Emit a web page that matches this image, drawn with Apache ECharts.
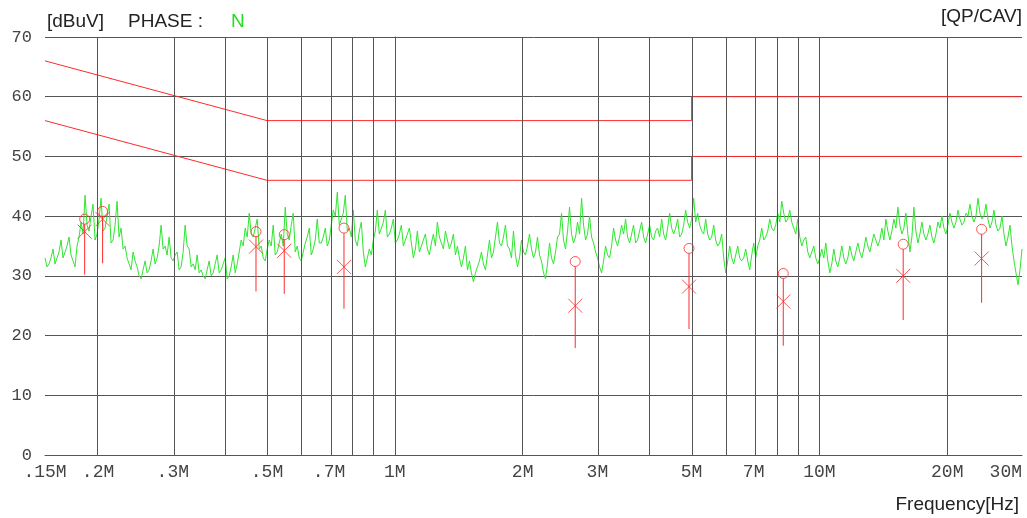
<!DOCTYPE html>
<html>
<head>
<meta charset="utf-8">
<script src="https://cdn.jsdelivr.net/npm/echarts@6/dist/echarts.min.js"></script>
<style>
html,body{margin:0;padding:0;background:#fff;}
#chart{width:1027px;height:518px;}
</style>
</head>
<body>
<div id="chart"></div>
<script>
// ---- data ----
const sweepStartMHz = 0.15;
const sweepStopMHz = 30;
// peak-detector trace (dBuV): spike tops, one per even sweep step
const tracePeakDbuV = [
33.0,32.0,34.5,33.0,36.0,34.0,36.5,32.5,35.0,39.0,
43.5,37.5,42.0,37.0,43.0,38.0,42.0,36.0,42.5,38.0,
35.0,32.0,34.0,31.5,29.5,32.5,31.0,34.5,33.0,38.5,
35.0,36.5,32.5,34.0,31.5,38.5,34.5,32.0,33.5,31.0,
29.5,32.5,30.5,33.5,31.0,33.0,30.0,33.5,32.0,36.0,
38.0,40.5,36.5,39.5,35.0,32.5,36.0,38.5,34.0,37.0,
41.5,36.0,40.5,35.0,32.5,35.5,38.0,34.5,39.5,35.5,
38.0,36.0,41.0,44.0,39.5,43.5,38.0,41.0,35.0,39.0,
31.5,34.5,36.0,41.0,38.0,41.0,37.0,39.5,36.0,38.5,
36.0,38.0,33.0,37.5,35.0,37.0,33.5,37.0,39.0,35.5,
37.5,34.5,37.0,35.0,31.5,35.0,32.5,29.0,31.5,34.0,
31.0,36.0,34.0,39.0,35.0,38.5,34.5,37.5,31.5,36.0,
33.5,37.0,33.0,36.5,32.5,29.5,35.5,32.0,36.5,40.5,
34.5,41.5,35.5,39.0,43.0,36.0,40.0,35.5,33.0,30.5,
35.0,33.0,38.0,35.0,38.5,39.5,35.5,38.5,36.0,39.0,
35.5,38.5,36.0,38.0,39.5,36.0,40.5,37.0,39.5,37.0,
41.0,38.0,43.0,40.5,37.5,39.5,36.0,38.5,35.0,37.0,
30.5,35.0,32.0,35.0,32.5,34.5,31.0,35.5,35.0,38.0,
36.5,39.5,37.5,40.5,42.5,39.0,41.0,38.0,39.5,35.0,
36.5,33.0,35.0,32.0,34.5,35.5,30.5,34.5,31.5,35.0,
32.0,35.0,32.5,35.5,33.0,36.5,34.0,37.0,35.0,38.0,
39.5,36.0,39.5,41.5,37.0,40.5,34.0,41.5,35.5,39.0,
36.0,38.5,35.5,39.0,40.0,37.0,40.5,38.0,41.0,38.5,
40.5,42.0,39.0,43.0,39.5,42.0,38.0,41.0,37.5,40.0,
35.0,38.5,32.5,28.5,34.5
];
// spike bottoms, one per odd sweep step (between the tops above)
const traceValleyDbuV = [
31.5,33.0,32.0,34.0,33.0,35.0,33.5,31.5,36.5,37.0,
38.5,40.0,36.0,39.5,37.5,40.0,35.5,38.5,36.5,34.5,
33.0,31.0,32.5,30.0,31.0,30.5,32.5,32.0,35.0,34.5,
33.5,33.0,33.5,31.0,34.0,35.0,31.5,31.0,30.5,30.0,
31.0,30.0,32.0,30.5,32.0,29.5,31.5,30.5,34.0,35.0,
36.5,37.0,38.0,34.5,33.0,34.5,35.0,33.5,35.5,35.0,
37.0,38.5,34.0,33.0,34.0,36.5,33.5,36.0,35.5,36.5,
35.0,38.5,40.0,38.5,40.5,37.5,36.5,36.0,37.5,34.0,
33.0,33.5,37.5,37.0,39.0,36.5,38.0,35.5,37.0,35.0,
37.0,35.5,34.5,34.0,36.0,34.5,35.5,35.0,36.5,34.5,
36.0,35.5,33.5,33.0,33.0,31.0,30.5,30.5,32.5,32.0,
33.5,33.0,36.5,35.5,36.5,35.0,33.0,33.5,33.0,34.0,
35.0,34.5,34.0,33.5,30.5,32.0,33.0,34.0,37.0,36.0,
37.5,37.0,36.5,37.0,38.5,37.0,36.5,34.0,31.5,32.5,
33.5,35.0,36.0,36.5,37.0,36.5,37.0,35.5,37.5,36.5,
37.0,36.5,37.5,36.5,37.0,38.0,38.0,38.0,36.5,38.5,
39.0,39.5,39.0,38.5,37.0,37.0,36.5,36.0,35.5,33.0,
32.5,33.0,33.5,33.0,33.0,32.5,33.5,33.0,36.0,36.0,
37.5,38.0,38.5,39.0,40.5,39.5,39.0,37.0,36.5,36.0,
34.0,34.0,33.0,33.0,33.0,32.5,32.0,32.5,33.0,33.0,
33.0,33.5,34.0,34.0,34.5,35.0,35.5,36.0,36.0,36.0,
37.5,37.5,38.0,38.5,38.0,37.0,36.5,37.5,37.0,37.0,
37.0,36.5,37.0,38.0,38.0,38.5,39.0,39.0,39.5,39.0,
40.0,40.0,40.0,40.5,40.0,39.5,39.0,38.5,38.0,37.0,
36.5,35.0,30.5,31.0
];
// the receiver sweeps log-spaced frequency steps between start and stop
const sweepSteps = tracePeakDbuV.length + traceValleyDbuV.length;
const sweepFreqMHz = Array.from({length: sweepSteps}, (_, k) =>
  sweepStartMHz * Math.pow(sweepStopMHz / sweepStartMHz, k / (sweepSteps - 1)));

// final measurement points
const peakFreqMHz  = [0.186, 0.205, 0.471, 0.549, 0.759, 2.66, 4.93, 8.22, 15.75, 24.1];
const qpDbuV       = [39.5, 40.8, 37.4, 36.9, 38.0, 32.4, 34.6, 30.4, 35.3, 37.8];
const avDbuV       = [37.4, 39.5, 34.9, 34.2, 31.5, 25.0, 28.2, 25.7, 30.0, 32.9];
const stemLowDbuV  = [30.2, 32.1, 27.4, 27.0, 24.5, 17.9, 21.1, 18.3, 22.6, 25.5];

// limit lines (frequency MHz, dBuV)
const qpLimitFreqMHz = [0.15, 0.5, 5, 5, 30];
const qpLimitDbuV    = [66, 56, 56, 60, 60];
const avLimitFreqMHz = [0.15, 0.5, 5, 5, 30];
const avLimitDbuV    = [56, 46, 46, 50, 50];

// axis ticks
const xLabelFreqMHz = [0.15, 0.2, 0.3, 0.5, 0.7, 1, 2, 3, 5, 7, 10, 20, 30];
const xLabelTexts   = ['.15M', '.2M', '.3M', '.5M', '.7M', '1M', '2M', '3M', '5M', '7M', '10M', '20M', '30M'];
const xGridFreqMHz  = [0.2, 0.3, 0.4, 0.5, 0.6, 0.7, 0.8, 0.9, 1, 2, 3, 4, 5, 6, 7, 8, 9, 10, 20, 30];
const yMin = 0, yMax = 70, yStep = 10;

// ---- chart ----
const lg = Math.log10;
const RED = '#ff2a2a';
const GRID = '#555555';
const chart = echarts.init(document.getElementById('chart'), null, {renderer: 'canvas'});

const labelValues = xLabelFreqMHz.map(lg);
const traceData = sweepFreqMHz.map((f, k) =>
  [lg(f), (k % 2 === 0) ? tracePeakDbuV[k / 2] : traceValleyDbuV[(k - 1) / 2]]);

const textFont = '19px "Liberation Sans"';

chart.setOption({
  animation: false,
  backgroundColor: '#ffffff',
  grid: {left: 45, right: 5, top: 37, bottom: 63, containLabel: false},
  xAxis: {
    type: 'value',
    min: lg(sweepStartMHz),
    max: lg(sweepStopMHz),
    axisLine: {show: true, lineStyle: {color: GRID, width: 1}},
    axisTick: {show: false},
    splitLine: {show: false},
    axisLabel: {
      customValues: labelValues,
      margin: 8,
      color: '#444',
      fontFamily: 'Liberation Mono',
      fontSize: 18,
      alignMaxLabel: 'right',
      formatter: function (v) {
        for (let i = 0; i < labelValues.length; i++) {
          if (Math.abs(labelValues[i] - v) < 1e-6) return xLabelTexts[i];
        }
        return '';
      }
    }
  },
  yAxis: {
    type: 'value',
    min: yMin, max: yMax, interval: yStep,
    axisLine: {show: true, lineStyle: {color: GRID, width: 1}},
    axisTick: {show: false},
    splitLine: {show: true, lineStyle: {color: GRID, width: 1}},
    axisLabel: {
      margin: 13,
      color: '#444',
      fontFamily: 'Liberation Mono',
      fontSize: 17
    }
  },
  graphic: [
    {type: 'text', left: 47, top: 12, style: {text: '[dBuV]', fill: '#222', font: textFont}},
    {type: 'text', left: 128, top: 12, style: {text: 'PHASE :', fill: '#222', font: textFont}},
    {type: 'text', left: 231, top: 12, style: {text: 'N', fill: '#22dd22', font: textFont}},
    {type: 'text', right: 5, top: 7, style: {text: '[QP/CAV]', fill: '#222', font: textFont}},
    {type: 'text', right: 8, top: 495, style: {text: 'Frequency[Hz]', fill: '#222', font: textFont}}
  ],
  series: [
    {
      // vertical grid lines
      type: 'line', data: [], z: 1, silent: true,
      markLine: {
        silent: true, symbol: 'none', label: {show: false}, animation: false,
        lineStyle: {color: GRID, width: 1, type: 'solid'},
        data: xGridFreqMHz.map(f => ({xAxis: lg(f)}))
      }
    },
    {
      name: 'trace', type: 'line', z: 2, symbol: 'none',
      lineStyle: {color: '#2fe62f', width: 1},
      data: traceData
    },
    {
      name: 'QP limit', type: 'line', z: 3, symbol: 'none',
      lineStyle: {color: RED, width: 1},
      data: qpLimitFreqMHz.map((f, i) => [lg(f), qpLimitDbuV[i]])
    },
    {
      name: 'AV limit', type: 'line', z: 3, symbol: 'none',
      lineStyle: {color: RED, width: 1},
      data: avLimitFreqMHz.map((f, i) => [lg(f), avLimitDbuV[i]])
    },
    {
      name: 'stems', type: 'custom', z: 4,
      renderItem: function (params, api) {
        const lo = api.coord([api.value(0), api.value(1)]);
        const hi = api.coord([api.value(0), api.value(2)]);
        return {
          type: 'line',
          shape: {x1: lo[0], y1: lo[1], x2: hi[0], y2: hi[1] + 5},
          style: {stroke: RED, lineWidth: 1}
        };
      },
      data: peakFreqMHz.map((f, i) => [lg(f), stemLowDbuV[i], qpDbuV[i]])
    },
    {
      name: 'QP', type: 'scatter', z: 5, symbol: 'circle', symbolSize: 10,
      itemStyle: {color: 'rgba(0,0,0,0)', borderColor: RED, borderWidth: 1},
      data: peakFreqMHz.map((f, i) => [lg(f), qpDbuV[i]])
    },
    {
      name: 'AV', type: 'scatter', z: 5,
      symbol: 'path://M0,0L10,10M10,0L0,10', symbolSize: 14,
      itemStyle: {color: 'rgba(0,0,0,0)', borderColor: RED, borderWidth: 1},
      data: peakFreqMHz.map((f, i) => [lg(f), avDbuV[i]])
    }
  ]
});
</script>
</body>
</html>
